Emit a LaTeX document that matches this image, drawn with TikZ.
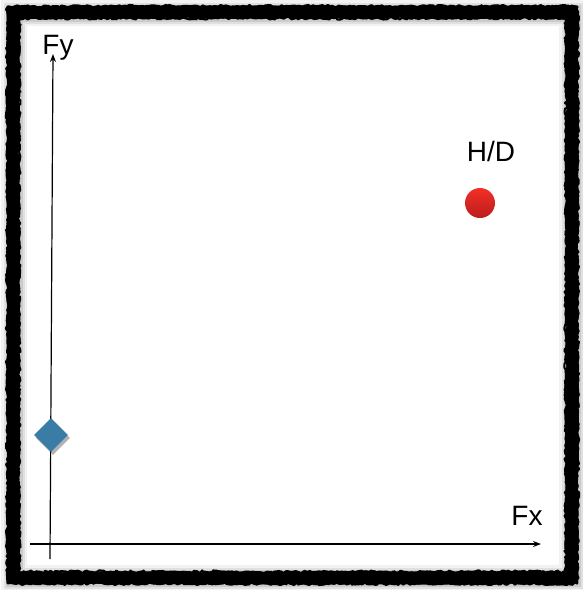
\documentclass[tikz,border=0pt]{standalone}
\usepackage{fontspec}
\setmainfont{Liberation Sans}
\usetikzlibrary{decorations.pathmorphing,shadows,shapes.geometric,arrows.meta}
\definecolor{diamondblue}{RGB}{58,124,165}
\definecolor{redtop}{RGB}{242,48,38}
\definecolor{redbot}{RGB}{188,28,28}
\tikzset{
  brush/.style={draw=black,line join=round,decorate,decoration={random steps,segment length=2.5pt,amplitude=1.6pt}},
  axis/.style={draw=black,line width=1.2pt,-{Stealth[length=8pt,width=6pt]}},
  lbl/.style={font=\fontsize{28}{30}\selectfont,inner sep=0pt},
  marker/.style={diamond,fill=diamondblue,minimum width=34pt,minimum height=34pt,inner sep=0pt,
    drop shadow={shadow xshift=2pt,shadow yshift=-3pt,opacity=0.3,fill=black}},
  dot/.style={circle,minimum size=30pt,inner sep=0pt,top color=redtop,bottom color=redbot,draw=none}
}
\begin{document}
\begin{tikzpicture}[x=1pt,y=-1pt]
\useasboundingbox (0,0) rectangle (583,590);
\fill[white] (0,0) rectangle (583,590);
% soft shadow inside frame
\foreach \o/\w in {0.05/26,0.07/21,0.09/17}{
  \draw[black,opacity=\o,line width=\w pt] (14,13) rectangle (572,578);
}
% brush frame
\pgfmathsetseed{7}
\draw[brush,line width=12pt] (13,12) rectangle (572,578);
\draw[brush,line width=7pt] (11,10) rectangle (574,580);
\draw[brush,line width=5pt] (17,16) rectangle (568,574);
\draw[brush,line width=3pt] (8,7) rectangle (577,583);
\draw[brush,line width=2pt] (19,18) rectangle (566,572);
% axes
\coordinate (ybot) at (50,559);
\coordinate (ytop) at (53,54);
\coordinate (xleft) at (30,544);
\coordinate (xright) at (541,544);
\draw[axis] (ybot) -- (ytop);
\draw[axis] (xleft) -- (xright);
% labels
\node[lbl] (fy) at (58,48) {Fy};
\node[lbl] (fx) at (527,516) {Fx};
\node[lbl] (hd) at (491,151) {H/D};
% markers
\node[marker] (blue) at (51,435) {};
\node[dot] (red) at (480,203) {};
\end{tikzpicture}
\end{document}
